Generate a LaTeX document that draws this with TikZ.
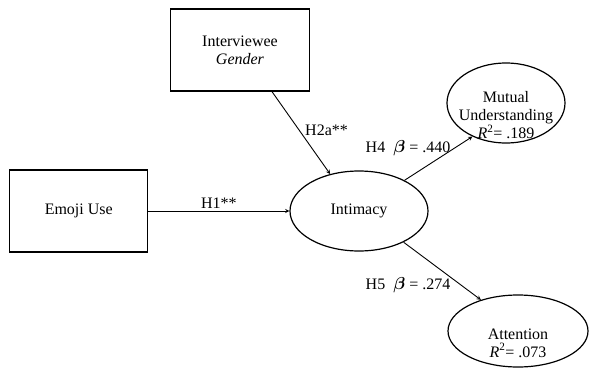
\documentclass[tikz,border=0pt]{standalone}
\usepackage{fontspec}
\setmainfont{Liberation Serif}
\usetikzlibrary{shapes.geometric,positioning}

\begin{document}
\begin{tikzpicture}[
    x=1pt, y=1pt,
    every node/.style={font=\fontsize{16}{18}\selectfont},
    % Stijl voor de rechthoekige variabelen
    varbox/.style={rectangle, draw, line width=1.3pt, minimum width=138pt,
                   minimum height=82pt, align=center},
    % Stijl voor de latente variabelen
    oval/.style={ellipse, draw, line width=1.2pt, inner sep=0pt},
    ovaltext/.style={align=center, inner sep=0pt},
    lbl/.style={inner sep=2pt},
    arrow/.style={->, >=stealth, line width=0.9pt}
]
\useasboundingbox (0,0) rectangle (589,368);

% --- Knopen ---
\node[oval, minimum width=138pt, minimum height=80pt] (intimacy) at (359,157) {Intimacy};
\node[varbox, left=141pt of intimacy] (emoji) {Emoji Use};
\node[varbox, minimum width=139pt] (gender) at (240,318) {Interviewee\\\textit{Gender}};
\node[oval, minimum width=118pt, minimum height=80pt] (mutual) at (506,265) {};
\node[ovaltext] (mutualtxt) at ([yshift=-12pt]mutual.center)
    {Mutual\\Understanding\\\textit{R}\textsuperscript{2}= .189};
\node[oval, minimum width=140pt, minimum height=72pt] (attention) at (518,37) {};
\node[ovaltext] (attentiontxt) at ([yshift=-12pt]attention.center)
    {Attention\\\textit{R}\textsuperscript{2}= .073};

% --- Pijlen ---
\draw[arrow] ([xshift=32pt]gender.south) -- (intimacy.128);
\draw[arrow] (emoji) -- node[lbl, above] (h1) {H1**} (intimacy);
\draw[arrow] (intimacy.34) -- (mutual.225);
\draw[arrow] (intimacy.325) -- (attention.140);

% --- Labels ---
\node[lbl, anchor=west] (h2a) at (303,238) {H2a**};
\node[lbl] (h4) at (408,220) {H4~~{\boldmath$\beta$} = .440};
\node[lbl] (h5) at (408,83) {H5~~{\boldmath$\beta$} = .274};

\end{tikzpicture}
\end{document}
